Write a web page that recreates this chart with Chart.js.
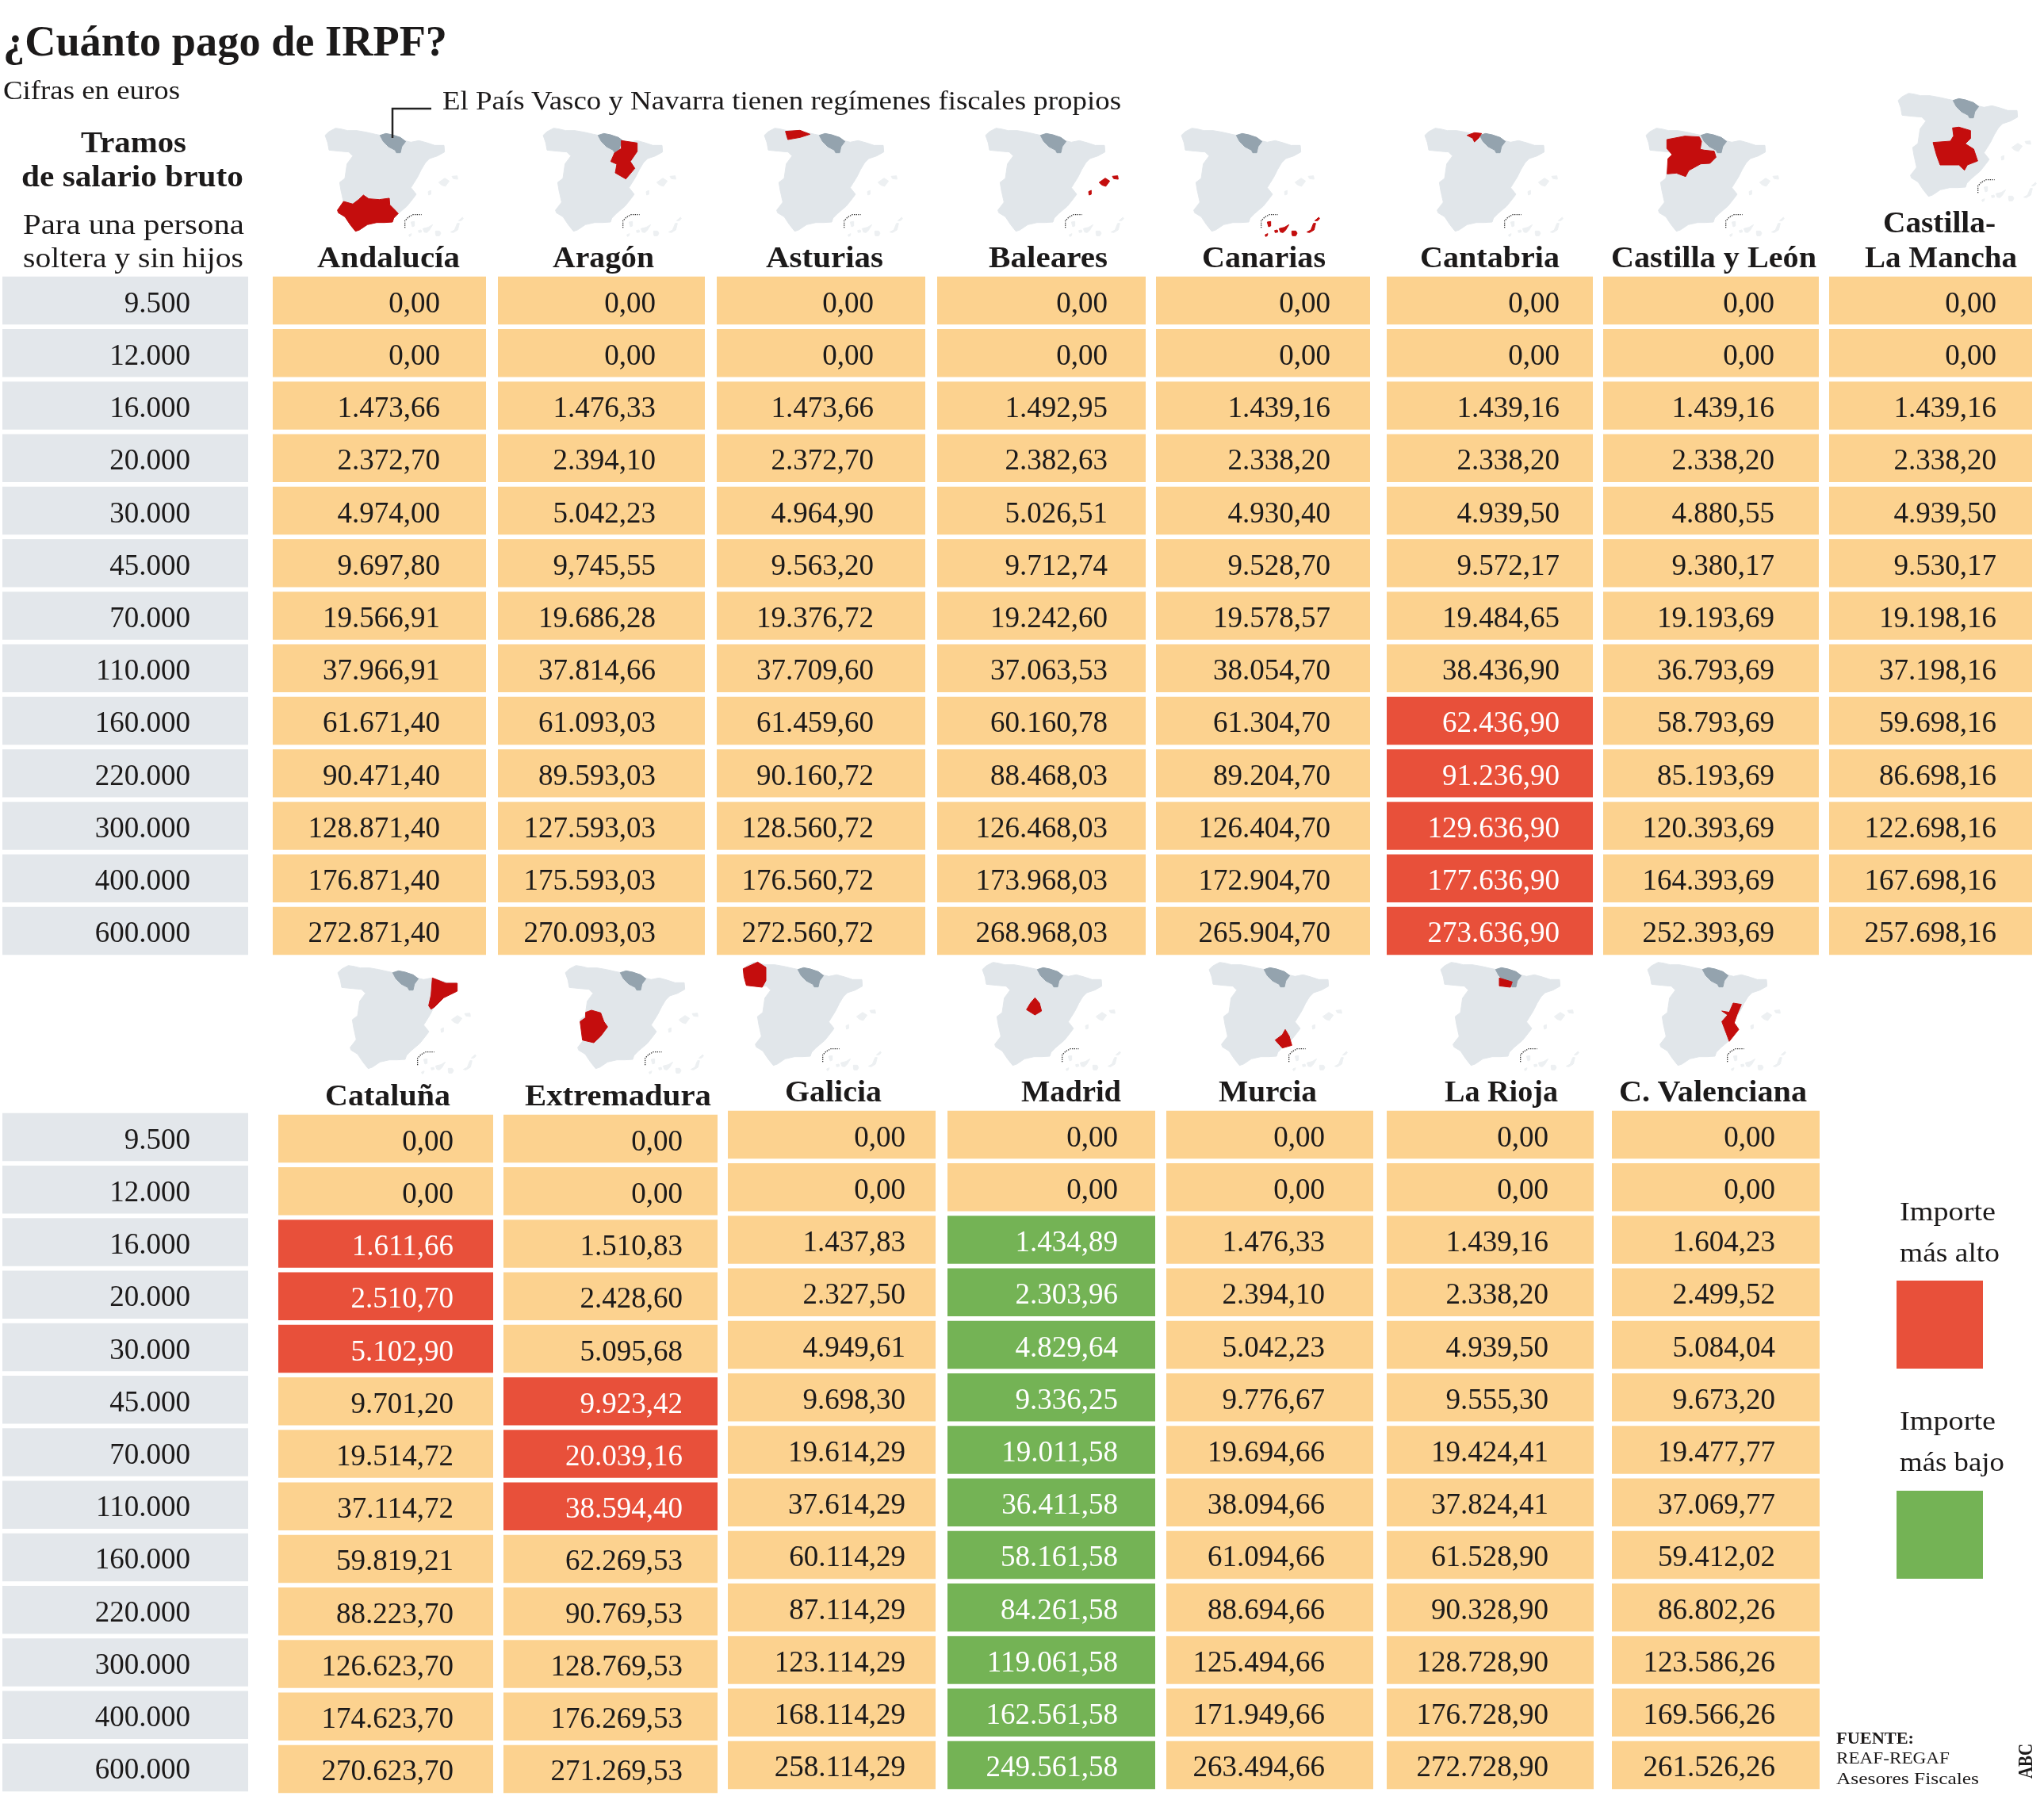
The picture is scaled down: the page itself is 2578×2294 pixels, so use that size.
<!DOCTYPE html>
<html lang="es"><head><meta charset="utf-8">
<style>
html,body{margin:0;padding:0;background:#fff;width:2578px;height:2294px;overflow:hidden}
canvas{position:absolute;display:block}
svg{position:absolute;left:0;top:0;pointer-events:none}
</style>
<script src="https://cdn.jsdelivr.net/npm/chart.js@4"></script>
</head><body>
<div id="cols"></div>
<svg id="art" width="2578" height="2294" xmlns="http://www.w3.org/2000/svg"></svg>
<script>
// ---------- data ----------
const tramos = ["9.500","12.000","16.000","20.000","30.000","45.000","70.000","110.000","160.000","220.000","300.000","400.000","600.000"];
const andalucia = [0,0,1473.66,2372.70,4974.00,9697.80,19566.91,37966.91,61671.40,90471.40,128871.40,176871.40,272871.40];
const aragon = [0,0,1476.33,2394.10,5042.23,9745.55,19686.28,37814.66,61093.03,89593.03,127593.03,175593.03,270093.03];
const asturias = [0,0,1473.66,2372.70,4964.90,9563.20,19376.72,37709.60,61459.60,90160.72,128560.72,176560.72,272560.72];
const baleares = [0,0,1492.95,2382.63,5026.51,9712.74,19242.60,37063.53,60160.78,88468.03,126468.03,173968.03,268968.03];
const canarias = [0,0,1439.16,2338.20,4930.40,9528.70,19578.57,38054.70,61304.70,89204.70,126404.70,172904.70,265904.70];
const cantabria = [0,0,1439.16,2338.20,4939.50,9572.17,19484.65,38436.90,62436.90,91236.90,129636.90,177636.90,273636.90];
const castillaLeon = [0,0,1439.16,2338.20,4880.55,9380.17,19193.69,36793.69,58793.69,85193.69,120393.69,164393.69,252393.69];
const castillaMancha = [0,0,1439.16,2338.20,4939.50,9530.17,19198.16,37198.16,59698.16,86698.16,122698.16,167698.16,257698.16];
const cataluna = [0,0,1611.66,2510.70,5102.90,9701.20,19514.72,37114.72,59819.21,88223.70,126623.70,174623.70,270623.70];
const extremadura = [0,0,1510.83,2428.60,5095.68,9923.42,20039.16,38594.40,62269.53,90769.53,128769.53,176269.53,271269.53];
const galicia = [0,0,1437.83,2327.50,4949.61,9698.30,19614.29,37614.29,60114.29,87114.29,123114.29,168114.29,258114.29];
const madrid = [0,0,1434.89,2303.96,4829.64,9336.25,19011.58,36411.58,58161.58,84261.58,119061.58,162561.58,249561.58];
const murcia = [0,0,1476.33,2394.10,5042.23,9776.67,19694.66,38094.66,61094.66,88694.66,125494.66,171949.66,263494.66];
const rioja = [0,0,1439.16,2338.20,4939.50,9555.30,19424.41,37824.41,61528.90,90328.90,128728.90,176728.90,272728.90];
const valenciana = [0,0,1604.23,2499.52,5084.04,9673.20,19477.77,37069.77,59412.02,86802.26,123586.26,169566.26,261526.26];
// The source prints this one figure with a comma as thousands separator.
const printedAs = {"9745.55":"9,745,55"};

// ---------- styles ----------
const ORANGE="#FCD28F", GREY="#E3E7EB", RED="#E8503A", GREEN="#74B355", INK="#1c1a1a";
const MAPGREY="#E1E6EA", ISLE="#EDF0F2", MAPRED="#C40D0D", FORAL="#94A3AE";
const SERIF='"Liberation Serif",serif';
const allSeries=[andalucia,aragon,asturias,baleares,canarias,cantabria,castillaLeon,castillaMancha,cataluna,extremadura,galicia,madrid,murcia,rioja,valenciana];
const fmt=v=>{ if(printedAs[String(v)]) return printedAs[String(v)];
  const [a,b]=v.toFixed(2).split("."); return a.replace(/\B(?=(\d{3})+$)/g,".")+","+b; };
const cellColor=(v,i)=>{ const row=allSeries.map(s=>s[i]); const hi=Math.max(...row), lo=Math.min(...row);
  if(hi===lo) return ORANGE; return v===hi?RED:v===lo?GREEN:ORANGE; };

// ---------- column layout: left, right, first-row top, text right edge ----------
const ROWPITCH=66.23, CELLH=60.5;
const columns=[
 {labels:tramos,l:3,r:313,t:349,x:240},
 {s:andalucia,l:344,r:613,t:349,x:555},
 {s:aragon,l:628,r:889,t:349,x:827},
 {s:asturias,l:904,r:1167,t:349,x:1102},
 {s:baleares,l:1182,r:1445,t:349,x:1397},
 {s:canarias,l:1458,r:1728,t:349,x:1678},
 {s:cantabria,l:1749,r:2009,t:349,x:1967},
 {s:castillaLeon,l:2022,r:2294,t:349,x:2238},
 {s:castillaMancha,l:2307,r:2563,t:349,x:2518},
 {labels:tramos,l:3,r:313,t:1404,x:240},
 {s:cataluna,l:351,r:622,t:1406,x:572},
 {s:extremadura,l:635,r:905,t:1406,x:861},
 {s:galicia,l:918,r:1180,t:1401,x:1142},
 {s:madrid,l:1195,r:1457,t:1401,x:1410},
 {s:murcia,l:1471,r:1732,t:1401,x:1671},
 {s:rioja,l:1749,r:2010,t:1401,x:1953},
 {s:valenciana,l:2033,r:2295,t:1401,x:2239}
];

const cellText={id:"cellText",afterDatasetsDraw(chart,_,opts){
  const {ctx}=chart, meta=chart.getDatasetMeta(0);
  ctx.save(); ctx.font='37px '+SERIF; ctx.textAlign="right"; ctx.textBaseline="alphabetic";
  meta.data.forEach((el,i)=>{ const d=chart.data.datasets[0].data[i];
    ctx.fillStyle=d.ink; ctx.fillText(d.text,opts.right,el.y+14.5); });
  ctx.restore();
}};

const host=document.getElementById("cols");
columns.forEach(c=>{
  const cv=document.createElement("canvas");
  const w=c.r-c.l, h=Math.round(ROWPITCH*13), gap=(ROWPITCH-CELLH)/2;
  cv.width=w; cv.height=h; cv.style.left=c.l+"px"; cv.style.top=(c.t-gap)+"px";
  cv.style.width=w+"px"; cv.style.height=h+"px"; host.appendChild(cv);
  const rows=tramos.map((t,i)=>{
    if(c.labels) return {tramo:t,span:[0,1],text:t,fill:GREY,ink:INK};
    const v=c.s[i], f=cellColor(v,i);
    return {tramo:t,span:[0,1],value:v,text:fmt(v),fill:f,ink:f===ORANGE?INK:"#fff"};
  });
  new Chart(cv,{type:"bar",plugins:[cellText],
    data:{labels:tramos,datasets:[{data:rows,parsing:{xAxisKey:"span",yAxisKey:"tramo"},
      backgroundColor:rows.map(r=>r.fill),borderWidth:0,barPercentage:CELLH/ROWPITCH,categoryPercentage:1}]},
    options:{indexAxis:"y",responsive:false,animation:false,devicePixelRatio:1,
      layout:{padding:0},events:[],
      scales:{x:{type:"linear",min:0,max:1,display:false},y:{type:"category",display:false}},
      plugins:{legend:{display:false},tooltip:{enabled:false},title:{display:false},cellText:{right:c.x-c.l}}}
  });
});

// ---------- text and maps ----------
const NS="http://www.w3.org/2000/svg", art=document.getElementById("art");
function el(tag,attrs,parent){const e=document.createElementNS(NS,tag);for(const k in attrs)e.setAttribute(k,attrs[k]);(parent||art).appendChild(e);return e;}
function txt(s,x,y,len,size,bold,fill,extra){
  const e=el("text",Object.assign({x,y,"font-family":SERIF,"font-size":size,"font-weight":bold?700:400,fill:fill||INK,textLength:len,lengthAdjust:"spacingAndGlyphs"},extra||{}));
  e.textContent=s; return e;
}
const SPAIN="45,62 60,48 85,35 105,38 130,44 165,44 200,50 235,58 255,62 300,60 345,82 370,88 400,82 430,90 460,100 495,100 497,125 470,140 440,150 425,165 410,190 395,220 370,260 390,285 375,305 355,330 322,358 305,375 300,390 270,392 240,392 205,400 175,420 160,425 140,400 120,370 95,355 92,345 115,315 105,270 100,240 120,225 128,170 150,140 135,125 100,122 60,118 55,90";
const FORALES="253,62 275,55 300,60 330,70 350,85 335,105 330,128 315,128 310,118 285,105 265,85";
const BAL=["475,240 498,224 515,235 500,255 485,250","525,217 545,215 547,228 530,226","435,275 445,270 445,285 437,288"];
const CAN=["370,390 383,388 383,405 375,408","398,422 408,420 410,428 400,430","362,438 372,434 370,442 364,445","415,415 435,410 452,400 440,420 430,430 420,428","463,424 478,424 483,432 478,442 465,442 463,434","520,428 535,420 545,395 553,395 547,420 530,430","550,385 565,372 568,378 560,385"];
const REGION={
 andalucia:["92,345 115,312 150,322 172,305 190,288 210,302 250,305 288,300 290,325 310,345 322,358 305,375 300,390 270,392 240,392 205,400 175,420 160,425 140,400 120,370 95,355"],
 aragon:["341,82 401,91 401,123 375,161 392,187 358,227 318,204 324,171 301,161 315,129 341,112"],
 asturias:["125,47 180,43 218,58 180,70 134,78"],
 baleares:BAL, canarias:CAN,
 cantabria:["205,62 233,52 260,55 249,72 233,87 226,73"],
 cyl:["124,78 192,65 247,68 255,85 250,115 266,118 303,122 310,145 287,168 252,170 207,195 195,218 160,205 125,208 128,150 144,135 124,112"],
 clm:["251,166 275,163 319,176 319,206 299,226 331,246 346,291 307,306 296,326 275,306 204,306 191,271 177,221 243,216 255,196"],
 cataluna:["403,82 454,102 497,102 497,132 446,157 411,192 398,200 389,187 398,147"],
 extremadura:["144,204 179,214 191,247 205,267 179,302 153,327 110,317 101,247 122,232 122,212"],
 galicia:["46,59 101,34 132,54 132,104 118,129 58,122 49,89"],
 madrid:["244,169 261,189 269,219 244,234 212,214 227,189"],
 murcia:["333,289 348,314 358,349 322,359 295,329 322,309"],
 rioja:["267,94 316,109 309,129 267,124"],
 valenciana:["369,189 400,194 383,234 373,264 390,289 354,334 343,304 326,259 348,234 326,219 354,224"]
};
const maps=[
 ["andalucia",395,150],["aragon",670,150],["asturias",949,150],["baleares",1228,150],["canarias",1475,150],["cantabria",1782,150],["cyl",2061,150],["clm",2379,106],
 ["cataluna",411,1206],["extremadura",698,1206],["galicia",922,1202],["madrid",1224,1202],["murcia",1510,1202],["rioja",1802,1202],["valenciana",2063,1202]
];
maps.forEach(([key,ox,oy])=>{
  const g=el("g",{transform:`translate(${ox},${oy}) scale(${1/3})`});
  const poly=(p,fill,stroke)=>el("polygon",{points:p,fill,stroke:stroke||fill,"stroke-width":3,"stroke-linejoin":"round"},g);
  poly(SPAIN,MAPGREY);
  [...BAL,...CAN].forEach(p=>poly(p,ISLE));
  poly(FORALES,FORAL);
  el("polyline",{points:"347,412 347,385 360,372 378,362 410,362",fill:"none",stroke:"#333","stroke-width":4,"stroke-dasharray":"4 4"},g);
  REGION[key].forEach(p=>poly(p,MAPRED));
});
// leader line
el("polyline",{points:"495,174 495,137 544,137",fill:"none",stroke:"#222","stroke-width":2.5});

txt("¿Cuánto pago de IRPF?",4,70,560,54,true);
txt("Cifras en euros",4,125,223,33,false);
txt("El País Vasco y Navarra tienen regímenes fiscales propios",558,138,856,33,false);
txt("Tramos",102,192,133,38,true);
txt("de salario bruto",27,235,280,38,true);
txt("Para una persona",29,295,279,35,false);
txt("soltera y sin hijos",29,337,278,35,false);

const heads=[
 ["Andalucía",400,337,180],["Aragón",697,337,128],["Asturias",966,337,148],["Baleares",1247,337,150],["Canarias",1516,337,156],
 ["Cantabria",1791,337,176],["Castilla y León",2032,337,259],["Castilla-",2375,293,142],["La Mancha",2352,337,192],
 ["Cataluña",410,1394,158],["Extremadura",662,1394,235],["Galicia",990,1389,122],["Madrid",1288,1389,126],["Murcia",1537,1389,124],["La Rioja",1822,1389,143],["C. Valenciana",2042,1389,237]
];
heads.forEach(([s,x,y,w])=>txt(s,x,y,w,38,true));

txt("Importe",2396,1539,121,33,false);
txt("más alto",2396,1591,126,33,false);
el("rect",{x:2392,y:1615,width:109,height:111,fill:RED});
txt("Importe",2396,1803,121,33,false);
txt("más bajo",2396,1855,132,33,false);
el("rect",{x:2392,y:1880,width:109,height:111,fill:GREEN});
txt("FUENTE:",2316,2199,98,21,true);
txt("REAF-REGAF",2316,2224,143,21,false);
txt("Asesores Fiscales",2316,2250,180,21,false);
txt("ABC",0,0,44,25,true,INK,{transform:"translate(2563,2243) rotate(-90)"});
</script>
</body></html>
